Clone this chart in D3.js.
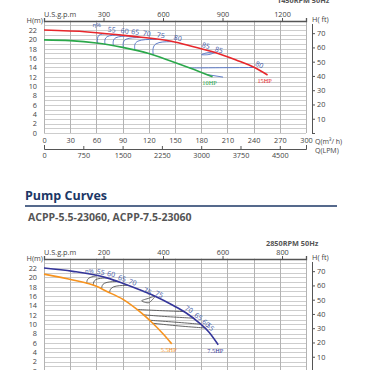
<!DOCTYPE html>
<html>
<head>
<meta charset="utf-8">
<script src="https://cdn.jsdelivr.net/npm/d3@7"></script>
<style>
  body { margin: 0; background: #fff; }
  svg { display: block; font-family: "Open Sans", "Noto Sans", sans-serif; }
</style>
</head>
<body>
<svg id="chart" width="370" height="370"></svg>
<script>
// unit conversions for the secondary axes
const GPM_PER_M3H = 4.4029;
const LPM_PER_M3H = 16.667;
const M_PER_FT = 0.3048;

const hTicks = [0, 2, 4, 6, 8, 10, 12, 14, 16, 18, 20, 22];
const ftTicks = [0, 10, 20, 30, 40, 50, 60, 70];

// --- 1450RPM chart (top, cut off) ---
const qTicksA = [0, 30, 60, 90, 120, 150, 180, 210, 240, 270, 300];
const gpmTicksA = [300, 600, 900, 1200];
const lpmTicksA = [0, 750, 1500, 2250, 3000, 3750, 4500];
const curve15hp = [[0, 22.0], [50, 21.6], [100, 20.7], [146, 19.6], [170, 18.5], [196, 17.2], [220, 15.6], [241, 14.0], [256, 12.4]];
const curve10hp = [[0, 19.9], [30, 19.75], [60, 19.25], [90, 18.3], [120, 17.0], [145, 15.4], [167, 13.9], [193, 12.0]];
const effA = [
  { v: '55', pts: [[61.5, 19.15], [60.5, 21.19], [73, 21.19]] },
  { v: '60', pts: [[69.8, 18.95], [69, 20.92], [88, 20.92]] },
  { v: '65', pts: [[79.4, 18.65], [78.5, 20.7], [100, 20.7]] },
  { v: '70', pts: [[90.8, 18.28], [90, 20.39], [113, 20.39]] },
  { v: '75', pts: [[104, 17.75], [103, 20.0], [129, 20.0]] },
  { v: '80', pts: [[125, 16.7], [124, 19.51], [148, 19.51]] },
  { v: '80', pts: [[167, 13.9], [200, 13.95], [241, 14.0]] },
  { v: '', pts: [[186, 12.5], [205, 11.95]] }
];
const loopsA = [
  { v: '85', pts: [[180.5, 16.75], [188, 17.2], [196, 17.2], [188, 16.75]] }
];

// --- ACPP-5.5 / 7.5 2850RPM chart (bottom, cut off) ---
const qTicksB = [0, 20, 40, 60, 80, 100, 120, 140, 160, 180, 200];
const gpmTicksB = [200, 400, 600, 800];
const curve75hp = [[0, 22.0], [22, 21.3], [48, 19.9], [60, 18.75], [73, 17.35], [86, 15.8], [98, 14.1], [108, 12.5], [118, 10.4], [126, 8.3], [133, 5.6]];
const curve55hp = [[0, 20.7], [22, 19.45], [40, 18.1], [48, 17.0], [60, 15.35], [71, 13.15], [78, 11.5], [83, 10.2], [91, 7.9], [97.5, 5.8]];
const effB = [
  { v: '55', pts: [[32.6, 18.75], [33, 19.95], [40, 20.33]] },
  { v: '60', pts: [[37.6, 18.3], [38, 19.75], [48, 19.9]] },
  { v: '65', pts: [[44, 17.55], [44.5, 19.0], [56, 19.13]] },
  { v: '70', pts: [[50, 16.72], [51, 18.2], [64, 18.32]] },
  { v: '70', pts: [[71, 13.15], [88, 12.9], [106.7, 12.7]] },
  { v: '65', pts: [[76, 12.0], [94, 11.6], [113.7, 11.3]] },
  { v: '60', pts: [[80.5, 10.85], [100, 10.45], [119.5, 10.0]] },
  { v: '55', pts: [[83, 10.2], [103, 9.6], [122.6, 9.2]] }
];
const loopsB = [
  { v: '75', pts: [[74.5, 15.0], [80, 15.55], [84.7, 15.95], [80, 14.6]] }
];

const svg = d3.select('#chart');
const TICK = '#444';
const fmt = d3.format('d');

function styleAxis(sel) {
  sel.attr('font-family', null).attr('font-size', null);
  sel.selectAll('text').attr('fill', TICK).style('font-size', '7.3px');
  sel.selectAll('line,path').attr('stroke', '#555');
}

// direction of a curve (in pixels) around q
function angleAt(curve, q, x, y) {
  let i = d3.bisector(d => d[0]).left(curve, q);
  i = Math.max(1, Math.min(curve.length - 1, i));
  const a = curve[i - 1], b = curve[i];
  return Math.atan2(y(b[1]) - y(a[1]), x(b[0]) - x(a[0]));
}

function drawChart(c) {
  const g = svg.append('g').attr('transform', 'translate(0,' + c.oy + ')');
  const x = d3.scaleLinear().domain([0, c.qMax]).range([44, 306]);
  const y = d3.scaleLinear().domain([0, 24]).range([133, 20.7]);
  const yFt = d3.scaleLinear().domain([0, 24 / M_PER_FT]).range([133, 20.7]);
  const xGpm = d3.scaleLinear().domain([0, c.qMax * GPM_PER_M3H]).range([44, 306]);

  // grid: a line every metre, verticals on the flow ticks
  g.append('g').selectAll('line').data(d3.range(0, 24)).join('line')
    .attr('x1', 44).attr('x2', 306)
    .attr('y1', d => Math.round(y(d)) + 0.5).attr('y2', d => Math.round(y(d)) + 0.5)
    .attr('stroke', '#cdcdcd');
  g.append('g').selectAll('line').data(c.qTicks).join('line')
    .attr('x1', d => Math.round(x(d)) + 0.5).attr('x2', d => Math.round(x(d)) + 0.5)
    .attr('y1', y(24)).attr('y2', y(0))
    .attr('stroke', '#b3b3b3');

  // top US gpm axis
  g.append('g').attr('transform', 'translate(0,' + Math.round(y(24)) + ')')
    .call(d3.axisTop(xGpm).tickValues(c.gpmTicks).tickFormat(fmt).tickSize(3).tickSizeOuter(3).tickPadding(1))
    .call(styleAxis)
    .call(s => s.select('.domain').attr('stroke-width', 1.3));
  g.append('text').attr('x', 44).attr('y', 16.5).text('U.S.g.p.m')
    .attr('fill', TICK).style('font-size', '7.3px');
  g.append('text').attr('x', 43).attr('y', 22.5).attr('text-anchor', 'end').text('H(m)')
    .attr('fill', TICK).style('font-size', '7.3px');
  g.append('text').attr('x', c.rpmX).attr('y', c.rpmY).text(c.rpm)
    .attr('fill', '#555').style('font-size', '7.3px').style('font-weight', 700);

  // left metres
  g.append('g').attr('transform', 'translate(44,0)')
    .call(d3.axisLeft(y).tickValues(hTicks).tickSize(0).tickPadding(7))
    .call(styleAxis)
    .call(s => s.select('.domain').remove());

  // right feet axis
  g.append('g').attr('transform', 'translate(312,0)')
    .call(d3.axisRight(yFt).tickValues(ftTicks).tickSize(3).tickSizeOuter(0).tickPadding(2)
      .tickFormat(d => d ? d : ''))
    .call(styleAxis)
    .call(s => s.select('.domain').attr('d', 'M0.5,' + y(23.3) + 'V' + (y(0) + 0.5)));
  g.append('text').attr('x', 312).attr('y', 22).text('H( ft)')
    .attr('fill', TICK).style('font-size', '7.3px');

  if (c.lpmTicks) {
    // bottom m3/h labels and the litres-per-minute axis
    g.append('g').attr('transform', 'translate(0,' + y(0) + ')')
      .call(d3.axisBottom(x).tickValues(c.qTicks).tickSize(0).tickPadding(5))
      .call(styleAxis)
      .call(s => s.select('.domain').remove());
    g.append('text').attr('x', 315).attr('y', 143.5).text('Q(m³/ h)')
      .attr('fill', TICK).style('font-size', '7px');

    const xLpm = d3.scaleLinear().domain([0, c.qMax * LPM_PER_M3H]).range([44, 306]);
    g.append('g').attr('transform', 'translate(0,149)')
      .call(d3.axisBottom(xLpm).tickValues(c.lpmTicks).tickFormat(fmt).tickSize(-3).tickSizeOuter(-4).tickPadding(4))
      .call(styleAxis);
    g.append('text').attr('x', 315).attr('y', 152.5).text('Q(LPM)')
      .attr('fill', TICK).style('font-size', '7px');
  }

  const main = d3.line().x(d => x(d[0])).y(d => y(d[1])).curve(d3.curveMonotoneX);
  const arc = d3.line().x(d => x(d[0])).y(d => y(d[1])).curve(d3.curveBasis);
  const loop = d3.line().x(d => x(d[0])).y(d => y(d[1])).curve(d3.curveCardinalClosed.tension(0.2));
  const upper = c.curves[1].pts;

  // efficiency lines
  g.append('g').selectAll('path').data(c.eff).join('path')
    .attr('d', d => arc(d.pts))
    .attr('fill', 'none').attr('stroke', c.effColor).attr('stroke-width', 0.9);
  g.append('g').selectAll('path').data(c.loops).join('path')
    .attr('d', d => loop(d.pts))
    .attr('fill', 'none').attr('stroke', c.effColor).attr('stroke-width', 0.9);

  // pump curves
  c.curves.forEach(cv => {
    g.append('path').attr('d', main(cv.pts))
      .attr('fill', 'none').attr('stroke', cv.color).attr('stroke-width', 1.6);
    const end = cv.pts[cv.pts.length - 1];
    g.append('text').attr('x', x(end[0]) - 3).attr('y', y(end[1]) + 8.5)
      .attr('text-anchor', 'middle').text(cv.label)
      .attr('fill', cv.color).style('font-size', '6.3px')
      .style('font-family', '"Liberation Serif", serif');
  });

  // efficiency labels, set along the upper curve
  function effLabel(text, p, t, n) {
    const a = angleAt(upper, p[0], x, y);
    const px = x(p[0]) + t * Math.cos(a) + n * Math.sin(a);
    const py = y(p[1]) + t * Math.sin(a) - n * Math.cos(a);
    g.append('text').attr('transform', 'translate(' + px + ',' + py + ') rotate(' + (a * 180 / Math.PI) + ')')
      .attr('text-anchor', 'middle').attr('dy', '0.35em').text(text)
      .attr('fill', c.labelColor).style('font-size', '7px');
  }
  c.eff.filter(d => d.v).forEach(d => effLabel(d.v, d.pts[d.pts.length - 1], 3.5, 4.5));
  c.loops.forEach(d => {
    effLabel(d.v, d.pts[1], -4, 6);
    effLabel(d.v, d.pts[2], 3, 3.5);
  });
  const first = c.eff[0].pts[c.eff[0].pts.length - 1];
  g.append('text').attr('x', x(first[0]) + c.eta[0]).attr('y', y(first[1]) + c.eta[1])
    .attr('text-anchor', 'middle').attr('dy', '0.35em').text('η%')
    .attr('fill', c.labelColor).style('font-size', '6px');
}

drawChart({
  oy: 0, qMax: 300, qTicks: qTicksA, gpmTicks: gpmTicksA, lpmTicks: lpmTicksA,
  rpm: '1450RPM 50Hz', rpmX: 277, rpmY: 2.5,
  curves: [
    { pts: curve10hp, color: '#2aa84a', label: '10HP' },
    { pts: curve15hp, color: '#e8262b', label: '15HP' }
  ],
  eff: effA, loops: loopsA, effColor: '#4f6fc4', labelColor: '#3f5aa8', eta: [-11, -8.5]
});

drawChart({
  oy: 238, qMax: 200, qTicks: qTicksB, gpmTicks: gpmTicksB, lpmTicks: null,
  rpm: '2850RPM 50Hz', rpmX: 266, rpmY: 7.5,
  curves: [
    { pts: curve55hp, color: '#f7931e', label: '5.5HP' },
    { pts: curve75hp, color: '#34359a', label: '7.5HP' }
  ],
  eff: effB, loops: loopsB, effColor: '#555', labelColor: '#3f5aa8', eta: [-7, -5]
});

// section heading between the two charts
svg.append('text').attr('x', 25).attr('y', 199.5).text('Pump Curves')
  .attr('fill', '#1c3766').style('font-size', '12.5px').style('font-weight', 700);
svg.append('line').attr('x1', 25).attr('x2', 337).attr('y1', 206).attr('y2', 206)
  .attr('stroke', '#1c3766').attr('stroke-width', 1.5);
svg.append('text').attr('x', 28).attr('y', 221).text('ACPP-5.5-23060, ACPP-7.5-23060')
  .attr('fill', '#555').style('font-size', '10.5px').style('font-weight', 700);
</script>
</body>
</html>
